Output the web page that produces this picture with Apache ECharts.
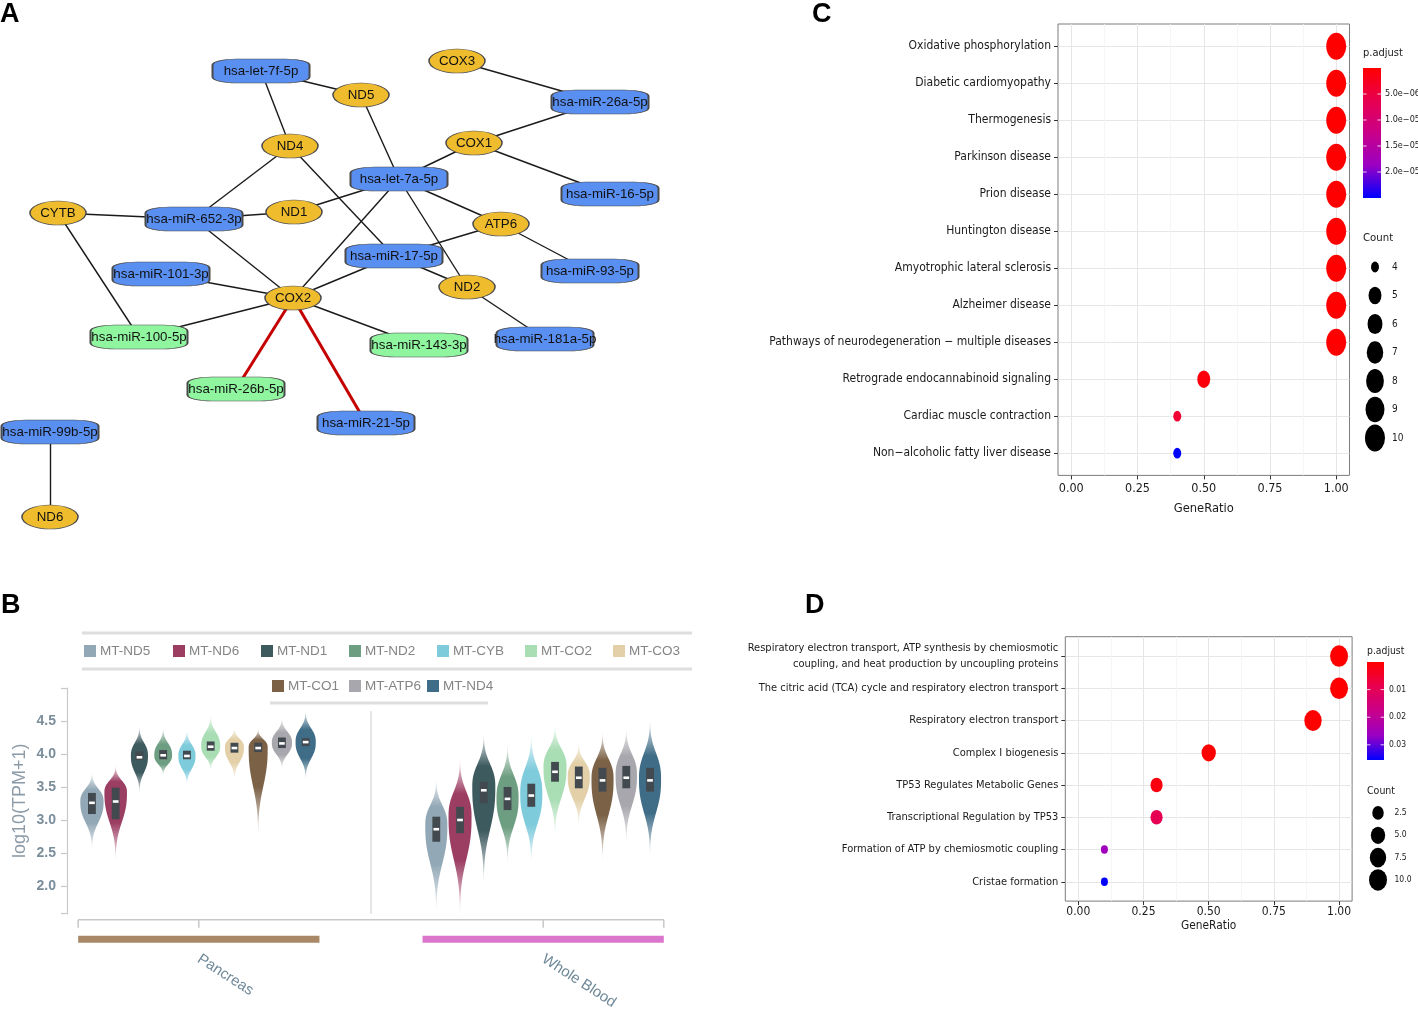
<!DOCTYPE html>
<html><head><meta charset="utf-8">
<script src="https://cdn.jsdelivr.net/npm/echarts@6/dist/echarts.min.js"></script>
<style>html,body{margin:0;padding:0;background:#fff}#c{width:1418px;height:1015px}</style>
</head><body><div id="c"></div>
<script>
const NARROW = "'Liberation Sans Narrow','DejaVu Sans Condensed','Liberation Sans',sans-serif";
const SANS = "'Liberation Sans',Arial,sans-serif";

// ---------- Panel A : miRNA - mtDNA gene network (layout coordinates) ----------
const netNames = ['hsa-let-7f-5p','ND5','COX3','hsa-miR-26a-5p','COX1','ND4','hsa-let-7a-5p','hsa-miR-16-5p','CYTB','hsa-miR-652-3p','ND1','ATP6','hsa-miR-17-5p','hsa-miR-93-5p','hsa-miR-101-3p','COX2','ND2','hsa-miR-100-5p','hsa-miR-143-3p','hsa-miR-181a-5p','hsa-miR-26b-5p','hsa-miR-21-5p','hsa-miR-99b-5p','ND6'];
const netKinds = ['mirna','gene','gene','mirna','gene','gene','mirna','mirna','gene','mirna','gene','gene','mirna','mirna','mirna','gene','gene','green','green','mirna','green','mirna','mirna','gene'];
const netLayoutX = [261,361,457,600,474,290,399,610,58,194,294,501,394,590,161,293,467,139,419,545,236,366,50,50];
const netLayoutY = [71,95,61,102,143,146,179,194,213,219,212,224,256,271,274,298,287,337,345,339,389,423,432,517];
const netEdges = [
 ['hsa-let-7f-5p','ND5'],['hsa-let-7f-5p','ND4'],['ND5','hsa-let-7a-5p'],['COX3','hsa-miR-26a-5p'],
 ['hsa-miR-26a-5p','COX1'],['COX1','hsa-let-7a-5p'],['COX1','hsa-miR-16-5p'],['ND4','hsa-miR-652-3p'],
 ['ND4','hsa-miR-17-5p'],['CYTB','hsa-miR-652-3p'],['CYTB','hsa-miR-100-5p'],['hsa-miR-652-3p','ND1'],
 ['hsa-miR-652-3p','COX2'],['ND1','hsa-let-7a-5p'],['hsa-let-7a-5p','COX2'],['hsa-let-7a-5p','ATP6'],
 ['hsa-let-7a-5p','ND2'],['ATP6','hsa-miR-17-5p'],['ATP6','hsa-miR-93-5p'],['hsa-miR-17-5p','COX2'],
 ['hsa-miR-17-5p','ND2'],['ND2','hsa-miR-181a-5p'],['hsa-miR-101-3p','COX2'],['COX2','hsa-miR-100-5p'],
 ['COX2','hsa-miR-143-3p'],['hsa-miR-99b-5p','ND6']
];
const netRedEdges = [['COX2','hsa-miR-26b-5p'],['COX2','hsa-miR-21-5p']];

// ---------- Panel B : violin statistics, log10(TPM+1) ----------
const genesB = ['MT-ND5','MT-ND6','MT-ND1','MT-ND2','MT-CYB','MT-CO2','MT-CO3','MT-CO1','MT-ATP6','MT-ND4'];
const tissuesB = ['Pancreas','Whole Blood'];
const pancMin  = [2.56,2.40,3.41,3.67,3.52,3.74,3.60,2.78,3.77,3.62];
const pancQ1   = [3.09,3.01,3.91,3.92,3.92,4.05,4.02,4.03,4.09,4.12];
const pancMed  = [3.26,3.28,3.95,3.98,3.97,4.11,4.09,4.09,4.16,4.18];
const pancQ3   = [3.41,3.49,4.04,4.06,4.05,4.19,4.17,4.17,4.25,4.24];
const pancMax  = [3.72,3.82,4.42,4.40,4.37,4.60,4.40,4.38,4.55,4.65];
const pancMode = [3.28,3.42,3.97,3.98,3.97,4.12,4.10,4.10,4.17,4.18];
const pancDens = [0.98,0.95,0.72,0.75,0.72,0.80,0.80,0.80,0.85,0.85];
const wbMin  = [1.61,1.59,2.05,2.35,2.35,2.75,2.90,2.40,2.65,2.47];
const wbQ1   = [2.67,2.80,3.25,3.15,3.20,3.58,3.48,3.43,3.48,3.43];
const wbMed  = [2.86,3.00,3.45,3.32,3.37,3.73,3.64,3.60,3.64,3.60];
const wbQ3   = [3.05,3.20,3.58,3.50,3.55,3.88,3.81,3.79,3.82,3.79];
const wbMax  = [3.61,3.91,4.29,4.14,4.29,4.44,4.17,4.32,4.39,4.51];
const wbMode = [2.92,3.05,3.50,3.33,3.40,3.80,3.66,3.62,3.68,3.62];
const wbDens = [0.93,0.97,0.97,0.93,0.93,0.97,0.93,0.93,0.90,0.93];
const yTicksB = [2.0,2.5,3.0,3.5,4.0,4.5];

// ---------- Panel C : KEGG enrichment ----------
const catsC = ['Oxidative phosphorylation','Diabetic cardiomyopathy','Thermogenesis','Parkinson disease','Prion disease','Huntington disease','Amyotrophic lateral sclerosis','Alzheimer disease','Pathways of neurodegeneration \u2212 multiple diseases','Retrograde endocannabinoid signaling','Cardiac muscle contraction','Non\u2212alcoholic fatty liver disease'];
const ratioC = [1,1,1,1,1,1,1,1,1,0.5,0.4,0.4];
const countC = [10,10,10,10,10,10,10,10,10,5,4,4];
const padjC  = [2e-10,2e-10,2e-10,2e-10,2e-10,2e-10,2e-10,2e-10,2e-10,9e-7,4e-6,2.5e-5];
const padjTicksC = [5e-6,1e-5,1.5e-5,2e-5];
const countLegendC = [4,5,6,7,8,9,10];

// ---------- Panel D : Reactome enrichment ----------
const catsD = ['Respiratory electron transport, ATP synthesis by chemiosmotic\ncoupling, and heat production by uncoupling proteins','The citric acid (TCA) cycle and respiratory electron transport','Respiratory electron transport','Complex I biogenesis','TP53 Regulates Metabolic Genes','Transcriptional Regulation by TP53','Formation of ATP by chemiosmotic coupling','Cristae formation'];
const ratioD = [1.0,1.0,0.9,0.5,0.3,0.3,0.1,0.1];
const countD = [10,10,9,5,3,3,1,1];
const padjD  = [1e-7,1e-7,1e-6,2e-4,0.0015,0.0095,0.0255,0.0355];
const padjTicksD = [0.01,0.02,0.03];
const countLegendD = [2.5,5.0,7.5,10.0];
const ratioTicks = [0,0.25,0.5,0.75,1];
const ratioMinorTicks = [0.125,0.375,0.625,0.875];

// ---------- styling ----------
const PADJ_COLORS = ['#ff0000','#e80050','#c90089','#9a00c3','#0000ff'];
const geneColors = ['#92a8b6','#9c3d62','#3d5a5f','#6e9e82','#7ecbdc','#a9ddb4','#e3d0a8','#7b6146','#a7a7ad','#3f6d87'];
const legendLeft = [84,173,261,349,437,525,613,272,349,427];
const legendTop  = [644,644,644,644,644,644,644,679,679,679];
const tissueColors = ['#a88866','#dc76cc'];
const tissueOffset = [0, 14.5];
const tissueCenters = [4.5, 19];
const tissueHalf = 5.08, tissueSplit = 11.75;
const yMinB = 1.58, yMaxB = 5.0;
const ELLIPSE = 'path://M0,12A28,12,0,1,0,56,12A28,12,0,1,0,0,12Z';
const nodeStyle = {
  gene:  {symbol: ELLIPSE, size: [56, 24], color: '#efbc2e'},
  mirna: {symbol: 'roundRect', size: [97, 24], color: '#5a8ff2'},
  green: {symbol: 'roundRect', size: [97, 24], color: '#8ff59f'}
};

function rgba(hex, a) {
  const n = parseInt(hex.slice(1), 16);
  return 'rgba(' + (n >> 16 & 255) + ',' + (n >> 8 & 255) + ',' + (n & 255) + ',' + a + ')';
}
function sciLabel(v) {
  const [m, e] = v.toExponential(1).split('e');
  const ev = parseInt(e, 10);
  return m + 'e' + (ev < 0 ? '\u2212' : '+') + String(Math.abs(ev)).padStart(2, '0');
}

// network
const netData = netNames.map((n, i) => {
  const s = nodeStyle[netKinds[i]];
  return {name: n, value: [netLayoutX[i], netLayoutY[i]], symbol: s.symbol, symbolSize: s.size,
    itemStyle: {color: s.color, borderColor: '#4a4a4a', borderWidth: 1}};
});
const netLinks = netEdges.map(e => ({source: e[0], target: e[1]}))
  .concat(netRedEdges.map(e => ({source: e[0], target: e[1], lineStyle: {color: '#c40000', width: 3}})));

// violin renderer
function violinRender(color) {
  return function (params, api) {
    const x = api.value(0), lo = api.value(1), q1 = api.value(2), med = api.value(3),
      q3 = api.value(4), hi = api.value(5), dens = api.value(6), mode = api.value(7);
    const hw = 0.5 * dens;
    const N = 80, right = [], left = [];
    for (let k = 0; k <= N; k++) {
      const y = lo + (hi - lo) * k / N;
      const d = y - mode;
      const u = Math.abs(d) / (d > 0 ? (hi - mode) : (mode - lo));
      const w = hw * Math.exp(-5 * Math.pow(u, 2.6));
      right.push(api.coord([x + w, y]));
      left.push(api.coord([x - w, y]));
    }
    const pts = right.concat(left.reverse());
    const pk = (hi - mode) / (hi - lo);
    const fill = new echarts.graphic.LinearGradient(0, 0, 0, 1, [
      {offset: 0, color: rgba(color, 0.12)},
      {offset: pk * 0.6, color: rgba(color, 1)},
      {offset: pk + (1 - pk) * 0.45, color: rgba(color, 1)},
      {offset: 1, color: rgba(color, 0.12)}
    ]);
    const b0 = api.coord([x - 0.165, q3]), b1 = api.coord([x + 0.165, q1]);
    const m0 = api.coord([x - 0.12, med]), m1 = api.coord([x + 0.12, med]);
    return {type: 'group', children: [
      {type: 'polygon', shape: {points: pts}, style: {fill: fill}},
      {type: 'rect', shape: {x: b0[0], y: b0[1], width: b1[0] - b0[0], height: b1[1] - b0[1]}, style: {fill: '#434a4f'}},
      {type: 'rect', shape: {x: m0[0], y: m0[1] - 1.3, width: m1[0] - m0[0], height: 2.6}, style: {fill: '#ffffff'}}
    ]};
  };
}
const violinSeries = genesB.map((g, gi) => ({
  type: 'custom', name: g, xAxisIndex: 1, yAxisIndex: 1,
  itemStyle: {color: geneColors[gi]},
  renderItem: violinRender(geneColors[gi]),
  encode: {x: 0, y: [1, 5]},
  data: [
    [tissueOffset[0] + gi, pancMin[gi], pancQ1[gi], pancMed[gi], pancQ3[gi], pancMax[gi], pancDens[gi], pancMode[gi]],
    [tissueOffset[1] + gi, wbMin[gi], wbQ1[gi], wbMed[gi], wbQ3[gi], wbMax[gi], wbDens[gi], wbMode[gi]]
  ]
}));

const tissueSeries = {
  type: 'custom', name: 'tissue', xAxisIndex: 1, yAxisIndex: 1, silent: true,
  data: tissueCenters.map(c => [c]),
  renderItem: function (params, api) {
    const i = params.dataIndex, c = api.value(0);
    const a = api.coord([c - tissueHalf, yMinB]), b = api.coord([c + tissueHalf, yMinB]);
    const cc = api.coord([c, yMinB]), mid = api.coord([tissueSplit, yMinB]);
    const ly = a[1] + 6;
    const ch = [
      {type: 'rect', shape: {x: a[0], y: ly + 16, width: b[0] - a[0], height: 7}, style: {fill: tissueColors[i]}},
      {type: 'line', shape: i === 0 ? {x1: a[0], y1: ly, x2: mid[0], y2: ly} : {x1: mid[0], y1: ly, x2: b[0], y2: ly}, style: {stroke: '#c8c8c8', lineWidth: 1.5}},
      {type: 'line', shape: {x1: cc[0], y1: ly, x2: cc[0], y2: ly + 8}, style: {stroke: '#c8c8c8', lineWidth: 1.5}},
      {type: 'line', shape: {x1: i === 0 ? a[0] : b[0], y1: ly, x2: i === 0 ? a[0] : b[0], y2: ly + 8}, style: {stroke: '#c8c8c8', lineWidth: 1.5}}
    ];
    if (i === 0) {
      const t = api.coord([tissueSplit, 4.65]);
      ch.push({type: 'line', shape: {x1: mid[0], y1: t[1], x2: mid[0], y2: mid[1]}, style: {stroke: '#dddddd', lineWidth: 1.5}});
    }
    return {type: 'group', children: ch};
  }
};

function colorbarRender(vmin, vmax, ticks) {
  return function (params, api) {
    const p0 = api.coord([0, vmin]), p1 = api.coord([1, vmax]);
    const x = Math.min(p0[0], p1[0]), w = Math.abs(p1[0] - p0[0]);
    const y = Math.min(p0[1], p1[1]), h = Math.abs(p1[1] - p0[1]);
    const stops = PADJ_COLORS.map((c, i) => ({offset: i / (PADJ_COLORS.length - 1), color: c}));
    const ch = [{type: 'rect', shape: {x: x, y: y, width: w, height: h}, style: {fill: new echarts.graphic.LinearGradient(0, 0, 0, 1, stops)}}];
    ticks.forEach(t => {
      const ty = api.coord([0, t])[1];
      ch.push({type: 'line', shape: {x1: x, y1: ty, x2: x + w * 0.2, y2: ty}, style: {stroke: 'rgba(255,255,255,0.8)', lineWidth: 1}});
      ch.push({type: 'line', shape: {x1: x + w * 0.8, y1: ty, x2: x + w, y2: ty}, style: {stroke: 'rgba(255,255,255,0.8)', lineWidth: 1}});
    });
    return {type: 'group', children: ch};
  };
}

const sizeC = v => { const w = 8 + 12 * Math.sqrt((v[2] - 4) / 6); return [w, w * 1.35]; };
const sizeD = v => { const w = 7 + 11 * Math.sqrt((v[2] - 1) / 9); return [w, w * 1.2]; };

const NOLINE = {show: false, onZero: false};
function enrichX(grid, fs, nameFs, nameGap, margin) {
  return {type: 'value', gridIndex: grid, min: -0.05, max: 1.05, position: 'bottom',
    axisLine: NOLINE,
    axisTick: {show: true, length: 4, customValues: ratioTicks, lineStyle: {color: '#333'}},
    axisLabel: {customValues: ratioTicks, formatter: v => v.toFixed(2), color: '#1a1a1a', fontSize: fs, fontFamily: NARROW, margin: margin},
    splitLine: {show: true, lineStyle: {color: '#e6e6e6', width: 1}},
    name: 'GeneRatio', nameLocation: 'middle', nameGap: nameGap,
    nameTextStyle: {color: '#1a1a1a', fontSize: nameFs, fontFamily: NARROW}};
}
function minorX(grid) {
  return {type: 'value', gridIndex: grid, min: -0.05, max: 1.05, position: 'bottom',
    axisLine: NOLINE, axisLabel: {show: false},
    axisTick: {show: false, customValues: ratioMinorTicks},
    splitLine: {show: true, lineStyle: {color: '#f2f2f2', width: 0.8}}};
}
function enrichY(grid, cats, fs, lh) {
  const idx = cats.map((c, i) => i);
  return {type: 'value', gridIndex: grid, min: -0.6, max: cats.length - 0.4, inverse: true,
    axisLine: NOLINE,
    axisTick: {show: true, length: 4, customValues: idx, lineStyle: {color: '#333'}},
    axisLabel: {customValues: idx, formatter: v => cats[Math.round(v)], color: '#1a1a1a', fontSize: fs, fontFamily: NARROW, margin: 7, lineHeight: lh},
    splitLine: {show: true, lineStyle: {color: '#e6e6e6', width: 1}}};
}
function hiddenX(grid) { return {type: 'value', gridIndex: grid, min: 0, max: 1, show: false}; }
function hiddenY(grid) { return {type: 'value', gridIndex: grid, min: 0, max: 1, show: false}; }

const gridC = {left: 1058, top: 24, width: 291.5, height: 451.4};
const gridD = {left: 1065.3, top: 636.7, width: 286.8, height: 264.4};

const option = {
  animation: false,
  backgroundColor: '#ffffff',
  grid: [
    {left: 0, top: 0, width: 700, height: 560, outerBoundsMode: 'none'},
    {left: 67, top: 688, width: 623.4, height: 225.7, outerBoundsMode: 'none'},
    Object.assign({show: true, borderColor: '#7d7d7d', borderWidth: 1, backgroundColor: 'transparent', outerBoundsMode: 'none'}, gridC),
    {left: 1363, top: 68, width: 18, height: 130, outerBoundsMode: 'none'},
    {left: 1366, top: 252.75, width: 18, height: 199.5, outerBoundsMode: 'none'},
    Object.assign({show: true, borderColor: '#7d7d7d', borderWidth: 1, backgroundColor: 'transparent', outerBoundsMode: 'none'}, gridD),
    {left: 1367, top: 662, width: 17, height: 98, outerBoundsMode: 'none'},
    {left: 1369.5, top: 801.8, width: 17, height: 89.3, outerBoundsMode: 'none'},
    Object.assign({outerBoundsMode: 'none'}, gridC),
    Object.assign({outerBoundsMode: 'none'}, gridD)
  ],
  xAxis: [
    {type: 'value', gridIndex: 0, min: 0, max: 700, show: false},
    {type: 'value', gridIndex: 1, min: -1.05, max: 25.2,
      axisLine: NOLINE, axisTick: {show: false}, splitLine: {show: false},
      axisLabel: {customValues: tissueCenters, formatter: v => tissuesB[tissueCenters.indexOf(v)], rotate: -33,
        margin: 44, color: '#6f8898', fontSize: 15, fontFamily: SANS}},
    enrichX(2, 12.5, 12.8, 27, 7),
    hiddenX(3), hiddenX(4),
    enrichX(5, 12, 11.8, 19, 5),
    hiddenX(6), hiddenX(7),
    minorX(8), minorX(9)
  ],
  yAxis: [
    {type: 'value', gridIndex: 0, min: 0, max: 560, inverse: true, show: false},
    {type: 'value', gridIndex: 1, min: yMinB, max: yMaxB,
      axisLine: {show: true, onZero: false, lineStyle: {color: '#c9c9c9', width: 1.2}},
      axisTick: {show: true, length: 6, customValues: [yMinB].concat(yTicksB, [yMaxB]), lineStyle: {color: '#c9c9c9', width: 1.2}},
      axisLabel: {customValues: yTicksB, formatter: v => v.toFixed(1), color: '#7a8d9b', fontSize: 14, fontWeight: 'bold', fontFamily: SANS, margin: 11},
      splitLine: {show: false},
      name: 'log10(TPM+1)', nameLocation: 'middle', nameGap: 38,
      nameTextStyle: {color: '#8c9ba7', fontSize: 18, fontFamily: SANS}},
    enrichY(2, catsC, 12, 16),
    {type: 'value', gridIndex: 3, min: 0, max: 2.5e-5, inverse: true, position: 'right',
      axisLine: NOLINE, axisTick: {show: false}, splitLine: {show: false},
      axisLabel: {customValues: padjTicksC, formatter: sciLabel, color: '#1a1a1a', fontSize: 9, fontFamily: NARROW, margin: 4}},
    {type: 'category', gridIndex: 4, inverse: true, position: 'right', data: countLegendC.map(String),
      axisLine: NOLINE, axisTick: {show: false}, splitLine: {show: false},
      axisLabel: {color: '#1a1a1a', fontSize: 10, fontFamily: NARROW, margin: 8}},
    enrichY(5, catsD, 11, 16),
    {type: 'value', gridIndex: 6, min: 0, max: 0.0355, inverse: true, position: 'right',
      axisLine: NOLINE, axisTick: {show: false}, splitLine: {show: false},
      axisLabel: {customValues: padjTicksD, formatter: v => v.toFixed(2), color: '#1a1a1a', fontSize: 8.5, fontFamily: NARROW, margin: 5}},
    {type: 'category', gridIndex: 7, inverse: true, position: 'right', data: countLegendD.map(v => v.toFixed(1)),
      axisLine: NOLINE, axisTick: {show: false}, splitLine: {show: false},
      axisLabel: {color: '#1a1a1a', fontSize: 8.5, fontFamily: NARROW, margin: 8}},
    hiddenY(8), hiddenY(9)
  ],
  visualMap: [
    {type: 'continuous', show: false, seriesIndex: 12, dimension: 3, min: 0, max: 2.5e-5, inRange: {color: PADJ_COLORS}},
    {type: 'continuous', show: false, seriesIndex: 15, dimension: 3, min: 0, max: 0.0355, inRange: {color: PADJ_COLORS}}
  ],
  legend: genesB.map((g, gi) => ({
    data: [g], left: legendLeft[gi], top: legendTop[gi], padding: 0, icon: 'rect', itemWidth: 12, itemHeight: 12,
    textStyle: {color: '#858585', fontSize: 13.5, fontFamily: SANS, padding: [0, 0, 0, -1]}, selectedMode: false
  })),
  graphic: [
    {type: 'text', style: {x: 0, y: 15, text: 'A', font: "bold 27px 'Liberation Sans',Arial", fill: '#000', verticalAlign: 'middle'}},
    {type: 'text', style: {x: 1, y: 606, text: 'B', font: "bold 27px 'Liberation Sans',Arial", fill: '#000', verticalAlign: 'middle'}},
    {type: 'text', style: {x: 812, y: 15, text: 'C', font: "bold 27px 'Liberation Sans',Arial", fill: '#000', verticalAlign: 'middle'}},
    {type: 'text', style: {x: 805, y: 606, text: 'D', font: "bold 27px 'Liberation Sans',Arial", fill: '#000', verticalAlign: 'middle'}},
    {type: 'line', shape: {x1: 82, y1: 633, x2: 692, y2: 633}, style: {stroke: '#dedede', lineWidth: 3}},
    {type: 'line', shape: {x1: 82, y1: 669, x2: 692, y2: 669}, style: {stroke: '#dedede', lineWidth: 3}},
    {type: 'line', shape: {x1: 270, y1: 703, x2: 488, y2: 703}, style: {stroke: '#dedede', lineWidth: 3}},
    {type: 'text', style: {x: 1363, y: 53, text: 'p.adjust', font: '11px ' + NARROW, fill: '#1a1a1a', verticalAlign: 'middle'}},
    {type: 'text', style: {x: 1363, y: 238, text: 'Count', font: '11.3px ' + NARROW, fill: '#1a1a1a', verticalAlign: 'middle'}},
    {type: 'text', style: {x: 1367, y: 651, text: 'p.adjust', font: '10.3px ' + NARROW, fill: '#1a1a1a', verticalAlign: 'middle'}},
    {type: 'text', style: {x: 1367, y: 791, text: 'Count', font: '10.5px ' + NARROW, fill: '#1a1a1a', verticalAlign: 'middle'}}
  ],
  series: [
    {type: 'graph', coordinateSystem: 'cartesian2d', xAxisIndex: 0, yAxisIndex: 0, layout: 'none', roam: false, silent: true,
      data: netData, links: netLinks,
      lineStyle: {color: '#1a1a1a', width: 1.4, opacity: 1, curveness: 0},
      label: {show: true, position: 'inside', color: '#111', fontSize: 13.3, fontFamily: SANS},
      emphasis: {disabled: true}},
    ...violinSeries,
    tissueSeries,
    {type: 'scatter', xAxisIndex: 2, yAxisIndex: 2, symbol: 'circle', symbolSize: sizeC, itemStyle: {opacity: 1},
      data: catsC.map((c, i) => [ratioC[i], i, countC[i], padjC[i]]), silent: true},
    {type: 'custom', xAxisIndex: 3, yAxisIndex: 3, silent: true, data: [[0, 0]],
      renderItem: colorbarRender(0, 2.5e-5, padjTicksC)},
    {type: 'scatter', xAxisIndex: 4, yAxisIndex: 4, symbol: 'circle', symbolSize: sizeC, itemStyle: {color: '#000', opacity: 1}, silent: true,
      data: countLegendC.map((c, i) => [0.5, i, c])},
    {type: 'scatter', xAxisIndex: 5, yAxisIndex: 5, symbol: 'circle', symbolSize: sizeD, itemStyle: {opacity: 1},
      data: catsD.map((c, i) => [ratioD[i], i, countD[i], padjD[i]]), silent: true},
    {type: 'custom', xAxisIndex: 6, yAxisIndex: 6, silent: true, data: [[0, 0]],
      renderItem: colorbarRender(0, 0.0355, padjTicksD)},
    {type: 'scatter', xAxisIndex: 7, yAxisIndex: 7, symbol: 'circle', symbolSize: sizeD, itemStyle: {color: '#000', opacity: 1}, silent: true,
      data: countLegendD.map((c, i) => [0.5, i, c])}
  ]
};
const chart = echarts.init(document.getElementById('c'), null, {renderer: 'canvas'});
chart.setOption(option);
</script>
</body></html>
